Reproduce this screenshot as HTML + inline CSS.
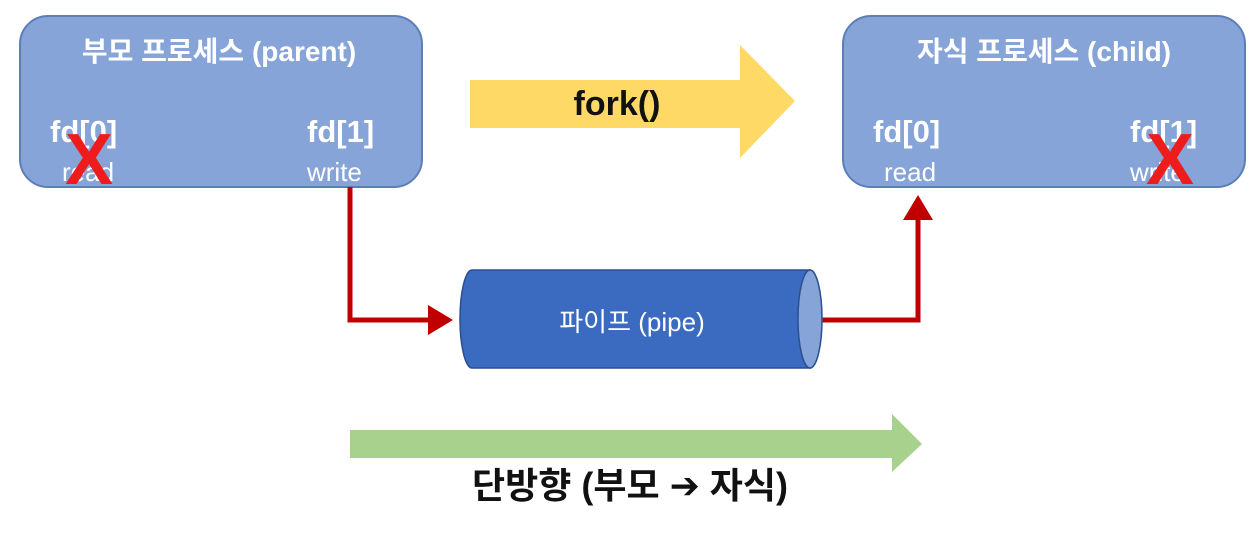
<!DOCTYPE html>
<html><head><meta charset="utf-8"><style>
body{margin:0;width:1259px;height:535px;background:#fff;overflow:hidden}
svg text{font-family:"Liberation Sans","Noto Sans CJK KR",sans-serif}
</style></head><body>
<svg width="1259" height="535" viewBox="0 0 1259 535">
<defs>
<marker id="ah" markerWidth="6" markerHeight="6" refX="4" refY="3" orient="auto" markerUnits="strokeWidth"><path d="M0,0 L5,3 L0,6 z" fill="#C00000"/></marker>
</defs>
<rect x="20" y="16" width="402" height="171" rx="28" fill="#86A4D8" stroke="#5C7FB8" stroke-width="2"/>
<text x="219" y="61" font-size="28" font-weight="bold" fill="#fff" text-anchor="middle">부모 프로세스 (parent)</text>
<text x="50" y="142" font-size="31" font-weight="bold" fill="#fff">fd[0]</text>
<text x="62" y="181" font-size="26" fill="#fff">read</text>
<text x="307" y="142" font-size="31" font-weight="bold" fill="#fff">fd[1]</text>
<text x="307" y="181" font-size="26" fill="#fff">write</text>
<text x="89" y="184" font-size="72" font-weight="bold" fill="#EE1C1C" text-anchor="middle">X</text>
<rect x="843" y="16" width="402" height="171" rx="28" fill="#86A4D8" stroke="#5C7FB8" stroke-width="2"/>
<text x="1044" y="61" font-size="28" font-weight="bold" fill="#fff" text-anchor="middle">자식 프로세스 (child)</text>
<text x="873" y="142" font-size="31" font-weight="bold" fill="#fff">fd[0]</text>
<text x="884" y="181" font-size="26" fill="#fff">read</text>
<text x="1130" y="142" font-size="31" font-weight="bold" fill="#fff">fd[1]</text>
<text x="1130" y="181" font-size="26" fill="#fff">write</text>
<text x="1170" y="184" font-size="72" font-weight="bold" fill="#EE1C1C" text-anchor="middle">X</text>
<polygon points="470,80 740,80 740,45 795,101 740,158 740,128 470,128" fill="#FFD966"/>
<text x="617" y="115" font-size="34" font-weight="bold" fill="#111" text-anchor="middle">fork()</text>
<polyline points="350,187 350,320 448,320" fill="none" stroke="#C00000" stroke-width="5" marker-end="url(#ah)"/>
<polyline points="822,320 918,320 918,200" fill="none" stroke="#C00000" stroke-width="5" marker-end="url(#ah)"/>
<path d="M472,270 L810,270 L810,368 L472,368 A12,49 0 0 1 472,270 z" fill="#3B6BC1" stroke="#2A4F91" stroke-width="1.5"/>
<ellipse cx="810" cy="319" rx="12" ry="49" fill="#86A4D8" stroke="#2A4F91" stroke-width="1.5"/>
<text x="632" y="331" font-size="26" fill="#fff" text-anchor="middle">파이프 (pipe)</text>
<polygon points="350,430 892,430 892,414 922,444 892,472 892,458 350,458" fill="#A9D18E"/>
<text x="630" y="498" font-size="36" font-weight="bold" fill="#111" text-anchor="middle">단방향 (부모 <tspan font-family="DejaVu Sans">➔</tspan> 자식)</text>
</svg>
</body></html>
